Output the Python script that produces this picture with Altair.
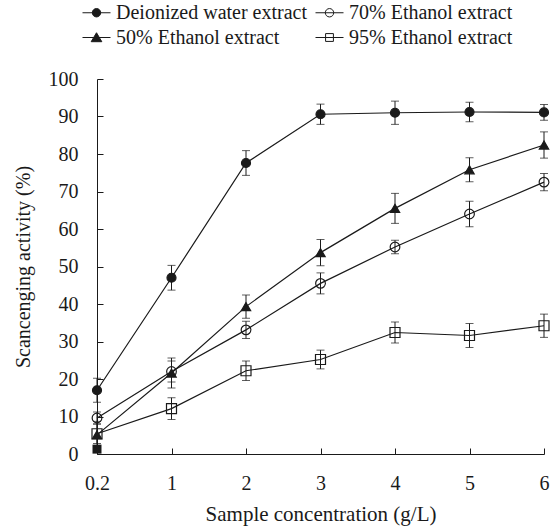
import altair as alt
import pandas as pd

# ---------------- data ----------------
conc = ["0.2", "1", "2", "3", "4", "5", "6"]
# order chosen so the 2-column legend (filled column by column) matches the reference
series_names = ["Deionized water extract", "50% Ethanol extract",
                "70% Ethanol extract", "95% Ethanol extract"]

deionized = [17.0, 47.0, 77.6, 90.6, 91.0, 91.2, 91.1]
deionized_err = [3.2, 3.3, 3.3, 2.7, 3.1, 2.6, 2.1]
ethanol50 = [5.1, 21.6, 39.3, 53.7, 65.5, 75.8, 82.4]
ethanol50_err = [3.6, 4.0, 3.1, 3.5, 4.0, 3.2, 3.5]
ethanol70 = [9.6, 22.0, 33.1, 45.5, 55.2, 64.0, 72.5]
ethanol70_err = [1.6, 2.8, 2.3, 2.8, 1.8, 3.4, 2.3]
ethanol95 = [5.4, 12.1, 22.2, 25.2, 32.4, 31.6, 34.2]
ethanol95_err = [2.6, 2.9, 2.6, 2.5, 2.8, 3.2, 3.1]

# stray filled square printed at the lowest concentration
extra_conc = ["0.2"]
extra_value = [1.3]

y_ticks = [0, 10, 20, 30, 40, 50, 60, 70, 80, 90, 100]

INK = "#1a1a1a"
FONT = "Liberation Serif"
W, H = 447, 375

rows = []
for name, vals, errs in zip(series_names,
                            [deionized, ethanol50, ethanol70, ethanol95],
                            [deionized_err, ethanol50_err, ethanol70_err, ethanol95_err]):
    for c, v, e in zip(conc, vals, errs):
        rows.append({"series": name, "conc": c, "value": v, "lo": v - e, "hi": v + e})
df = pd.DataFrame(rows)
extra_df = pd.DataFrame({"conc": extra_conc, "value": extra_value})

x_scale = alt.Scale(type="point", domain=conc, padding=0)
y_scale = alt.Scale(domain=[0, 100], nice=False)

base = alt.Chart(df)

x_main = alt.X("conc:O", scale=x_scale, sort=conc,
               axis=alt.Axis(orient="bottom", ticks=False, domain=True, domainColor=INK,
                             domainWidth=1, labelFont=FONT, labelFontSize=20, labelColor=INK,
                             labelPadding=19, labelAngle=0, grid=False,
                             title="Sample concentration (g/L)", titleFont=FONT,
                             titleFontSize=21, titleFontWeight="normal", titleColor=INK,
                             titlePadding=10))
y_main = alt.Y("value:Q", scale=y_scale,
               axis=alt.Axis(orient="left", ticks=False, domain=True, domainColor=INK,
                             domainWidth=1, values=y_ticks, labelFont=FONT, labelFontSize=20,
                             labelColor=INK, labelPadding=19, grid=False,
                             title="Scancenging activity (%)", titleFont=FONT,
                             titleFontSize=20, titleFontWeight="normal", titleColor=INK,
                             titlePadding=15))

lines = base.mark_line(color=INK, strokeWidth=1.2).encode(
    x=x_main, y=y_main, detail="series:N")

# inward ticks: axes drawn from the opposite side and shifted onto the plot edges
err_rules = base.mark_rule(color=INK, strokeWidth=1).encode(
    x=alt.X("conc:O", scale=x_scale, sort=conc,
            axis=alt.Axis(orient="top", offset=-H, labels=False, domain=False, ticks=True,
                          tickSize=6, tickColor=INK, tickWidth=1, grid=False, title=None)),
    y=alt.Y("lo:Q", scale=y_scale,
            axis=alt.Axis(orient="right", offset=-W, labels=False, domain=False, ticks=True,
                          tickSize=6, tickColor=INK, tickWidth=1, values=y_ticks,
                          grid=False, title=None)),
    y2="hi:Q")

caps_lo = base.mark_tick(color=INK, size=8, thickness=1).encode(
    x=alt.X("conc:O", scale=x_scale, sort=conc, axis=None),
    y=alt.Y("lo:Q", scale=y_scale, axis=None))
caps_hi = base.mark_tick(color=INK, size=8, thickness=1).encode(
    x=alt.X("conc:O", scale=x_scale, sort=conc, axis=None),
    y=alt.Y("hi:Q", scale=y_scale, axis=None))

points = base.mark_point(filled=True, stroke=INK, strokeWidth=1.2, opacity=1).encode(
    x=alt.X("conc:O", scale=x_scale, sort=conc, axis=None),
    y=alt.Y("value:Q", scale=y_scale, axis=None),
    shape=alt.Shape("series:N", scale=alt.Scale(domain=series_names,
                    range=["circle", "triangle-up", "circle", "square"]), legend=None),
    fill=alt.Fill("series:N", scale=alt.Scale(domain=series_names,
                  range=[INK, INK, "transparent", "transparent"]), legend=None),
    size=alt.Size("series:N", scale=alt.Scale(domain=series_names,
                  range=[81, 100, 81, 64]), legend=None))

extra = alt.Chart(extra_df).mark_point(filled=True, shape="square", size=81, color=INK,
                                       opacity=1).encode(
    x=alt.X("conc:O", scale=x_scale, sort=conc, axis=None),
    y=alt.Y("value:Q", scale=y_scale, axis=None))

# legend symbols: line segment with the marker on it
p_circle = "M-1,0L1,0M-0.3,0A0.3,0.3,0,1,0,0.3,0A0.3,0.3,0,1,0,-0.3,0Z"
p_tri = "M-1,0L1,0M0,-0.34L0.38,0.3L-0.38,0.3Z"
p_sq = "M-1,0L1,0M-0.28,-0.28L0.28,-0.28L0.28,0.28L-0.28,0.28Z"

leg = dict(orient="none", legendX=-15, legendY=-81, columns=2, title=None,
           labelFont=FONT, labelFontSize=20, labelColor=INK, labelLimit=400,
           labelOffset=5, symbolSize=784, symbolStrokeColor=INK, symbolStrokeWidth=1,
           columnPadding=5, rowPadding=-2, padding=0)

legend_layer = base.transform_filter("false").mark_point(
    filled=False, strokeWidth=1, size=784, opacity=1).encode(
    shape=alt.Shape("series:N", scale=alt.Scale(domain=series_names,
                    range=[p_circle, p_tri, p_circle, p_sq]), legend=alt.Legend(**leg)),
    fill=alt.Fill("series:N", scale=alt.Scale(domain=series_names,
                  range=[INK, INK, "transparent", "transparent"]), legend=alt.Legend(**leg)),
    stroke=alt.Stroke("series:N", scale=alt.Scale(domain=series_names,
                      range=[INK, INK, INK, INK]), legend=alt.Legend(**leg)))

chart = alt.layer(lines, err_rules, caps_lo, caps_hi, points, extra, legend_layer).resolve_axis(
    x="independent", y="independent").resolve_scale(
    shape="independent", fill="independent", stroke="independent").properties(
    width=W, height=H,
    padding={"left": 97, "top": 79, "right": 13, "bottom": 73},
    autosize=alt.AutoSizeParams(type="none"),
    background="white").configure(font=FONT).configure_view(stroke=None)

chart.save("out.html", embed_options={"renderer": "svg", "actions": False})
